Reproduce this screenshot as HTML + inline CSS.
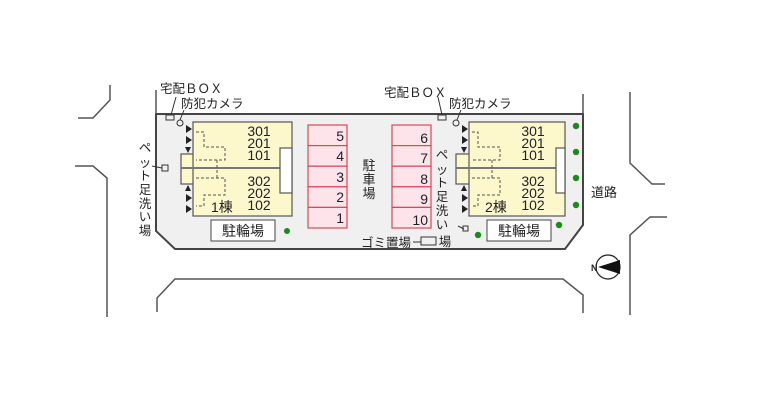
<!DOCTYPE html>
<html><head><meta charset="utf-8"><style>
html,body{margin:0;padding:0;background:#fff;}
svg{display:block;}
text{font-family:"Liberation Sans","Noto Sans CJK JP",sans-serif;fill:#222;}
</style></head><body>
<svg width="758" height="400" viewBox="0 0 758 400" xmlns="http://www.w3.org/2000/svg">
<g fill="none" stroke="#555" stroke-width="1.5">
<polyline points="110,85 110,100 93,118 78,118"/>
<polyline points="75,166 93,166 107,178 107,317"/>
<polyline points="630,92 630,163 652,184 665,184"/>
<polyline points="667,217 650,217 630,235 630,315"/>
<polyline points="157,312 157,298 175,279 563,279 583,295 583,313"/>
</g>
<polygon points="156,114 583,114 583,225 565,249 175,249 156,231" fill="#f0f0f0" stroke="#444" stroke-width="2"/>
<line x1="156" y1="90" x2="156" y2="114" stroke="#555" stroke-width="1.5"/>
<line x1="583" y1="94" x2="583" y2="114" stroke="#555" stroke-width="1.5"/>

<g stroke="#555" stroke-width="1.2">
<rect x="181" y="154" width="14" height="30" fill="#fdf8cc"/>
<rect x="193" y="122" width="99" height="94" fill="#fdf8cc"/>
<line x1="181" y1="168" x2="292" y2="168" stroke="#777" stroke-width="2"/>
<rect x="280" y="148" width="12" height="45" fill="#fff"/>
</g>
<g fill="none" stroke="#555" stroke-width="1" stroke-dasharray="3,2">
<polyline points="196,132 204,132 204,147 225,147 225,160 196,160"/>
<line x1="217" y1="160" x2="217" y2="178"/>
<polyline points="196,178 225,178 225,195 204,195 204,206 196,206"/>
</g>
<g fill="#222">
<polygon points="186,125 192,129 186,133"/><polygon points="186,136 192,140 186,144"/><polygon points="185,147 191,147 188,153"/>
<polygon points="185,191 191,191 188,185"/><polygon points="186,194 192,198 186,202"/><polygon points="186,205 192,209 186,213"/>
</g>
<g font-size="14" text-anchor="middle">
<text x="259" y="136">301</text><text x="259" y="148">201</text><text x="259" y="160">101</text>
<text x="259" y="186">302</text><text x="259" y="198">202</text><text x="259" y="210">102</text>
</g>
<text x="211" y="212" font-size="14">1棟</text>
<rect x="211" y="220" width="64" height="21" fill="#fff" stroke="#444"/>
<text x="243" y="236" font-size="14" text-anchor="middle">駐輪場</text>
<circle cx="287" cy="231" r="3" fill="#1a8a1a"/>

<g stroke="#555" stroke-width="1.2">
<rect x="456" y="154" width="14" height="30" fill="#fdf8cc"/>
<rect x="469" y="122" width="96" height="94" fill="#fdf8cc"/>
<line x1="456" y1="168" x2="565" y2="168" stroke="#777" stroke-width="2"/>
<rect x="556" y="148" width="9" height="45" fill="#fff"/>
</g>
<g fill="none" stroke="#555" stroke-width="1" stroke-dasharray="3,2">
<polyline points="472,132 478,132 478,147 500,147 500,160 472,160"/>
<line x1="492" y1="160" x2="492" y2="178"/>
<polyline points="472,178 500,178 500,195 478,195 478,206 472,206"/>
</g>
<g fill="#222">
<polygon points="462,125 468,129 462,133"/><polygon points="462,136 468,140 462,144"/><polygon points="461,147 467,147 464,153"/>
<polygon points="461,191 467,191 464,185"/><polygon points="462,194 468,198 462,202"/><polygon points="462,205 468,209 462,213"/>
</g>
<g font-size="14" text-anchor="middle">
<text x="533" y="136">301</text><text x="533" y="148">201</text><text x="533" y="160">101</text>
<text x="533" y="186">302</text><text x="533" y="198">202</text><text x="533" y="210">102</text>
</g>
<text x="485" y="212" font-size="14">2棟</text>
<rect x="487" y="220" width="64" height="21" fill="#fff" stroke="#444"/>
<text x="519" y="236" font-size="14" text-anchor="middle">駐輪場</text>
<g fill="#1a8a1a">
<circle cx="576" cy="126" r="3.2"/><circle cx="576" cy="152" r="3.2"/><circle cx="576" cy="178" r="3.2"/><circle cx="576" cy="205" r="3.2"/>
<circle cx="559" cy="225" r="3.2"/><circle cx="478" cy="235" r="3.2"/>
</g>

<g fill="#fde4ea" stroke="#d9475a" stroke-width="1.2">
<rect x="308" y="125" width="39" height="20.6"/><rect x="308" y="145.6" width="39" height="20.6"/><rect x="308" y="166.2" width="39" height="20.6"/><rect x="308" y="186.8" width="39" height="20.6"/><rect x="308" y="207.4" width="39" height="20.6"/>
<rect x="392" y="125" width="39" height="20.6"/><rect x="392" y="145.6" width="39" height="20.6"/><rect x="392" y="166.2" width="39" height="20.6"/><rect x="392" y="186.8" width="39" height="20.6"/><rect x="392" y="207.4" width="39" height="20.6"/>
</g>
<g font-size="14" text-anchor="end">
<text x="344" y="141">5</text><text x="344" y="161">4</text><text x="344" y="182">3</text><text x="344" y="202">2</text><text x="344" y="223">1</text>
<text x="428" y="143">6</text><text x="428" y="163">7</text><text x="428" y="184">8</text><text x="428" y="204">9</text><text x="428" y="225">10</text>
</g>
<g font-size="13" text-anchor="middle">
<text x="369" y="170">駐</text><text x="369" y="184">車</text><text x="369" y="198">場</text>
</g>

<g font-size="12.5">
<text x="160" y="93">宅配ＢＯＸ</text>
<text x="181" y="108">防犯カメラ</text>
<text x="384" y="97">宅配ＢＯＸ</text>
<text x="449" y="108">防犯カメラ</text>
<text x="591" y="197" font-size="13">道路</text>
<text x="361" y="247">ゴミ置場</text>
</g>
<g fill="none" stroke="#333" stroke-width="1">
<line x1="176" y1="97" x2="171" y2="115"/>
<rect x="166" y="115" width="8" height="5"/>
<line x1="184" y1="110" x2="180" y2="120"/><circle cx="180" cy="123" r="3"/>
<line x1="438" y1="97" x2="442" y2="115"/>
<rect x="438" y="115" width="8" height="5"/>
<line x1="461" y1="110" x2="457" y2="120"/><circle cx="456" cy="123" r="3"/>
<line x1="152" y1="166" x2="162" y2="168"/><rect x="162" y="165" width="6" height="6"/>
<line x1="458" y1="226" x2="464" y2="229"/><rect x="463" y="226" width="5" height="5"/>
<line x1="413" y1="242" x2="421" y2="242"/><rect x="421" y="237" width="15" height="8"/>
</g>
<g font-size="12.5" text-anchor="middle">
<text x="145" y="152">ペ</text><text x="145" y="167">ッ</text><text x="145" y="180">ト</text><text x="145" y="194">足</text><text x="145" y="208">洗</text><text x="145" y="221">い</text><text x="145" y="235">場</text>
<text x="442" y="159">ペ</text><text x="442" y="174">ッ</text><text x="442" y="187">ト</text><text x="442" y="201">足</text><text x="442" y="215">洗</text><text x="442" y="229">い</text><text x="445" y="246">場</text>
</g>

<circle cx="608" cy="267" r="12" fill="#fff" stroke="#222" stroke-width="1.2"/>
<polygon points="598,267 620,260 620,274" fill="#111"/>
<text x="591" y="271" font-size="9" font-weight="bold">N</text>
</svg>
</body></html>
